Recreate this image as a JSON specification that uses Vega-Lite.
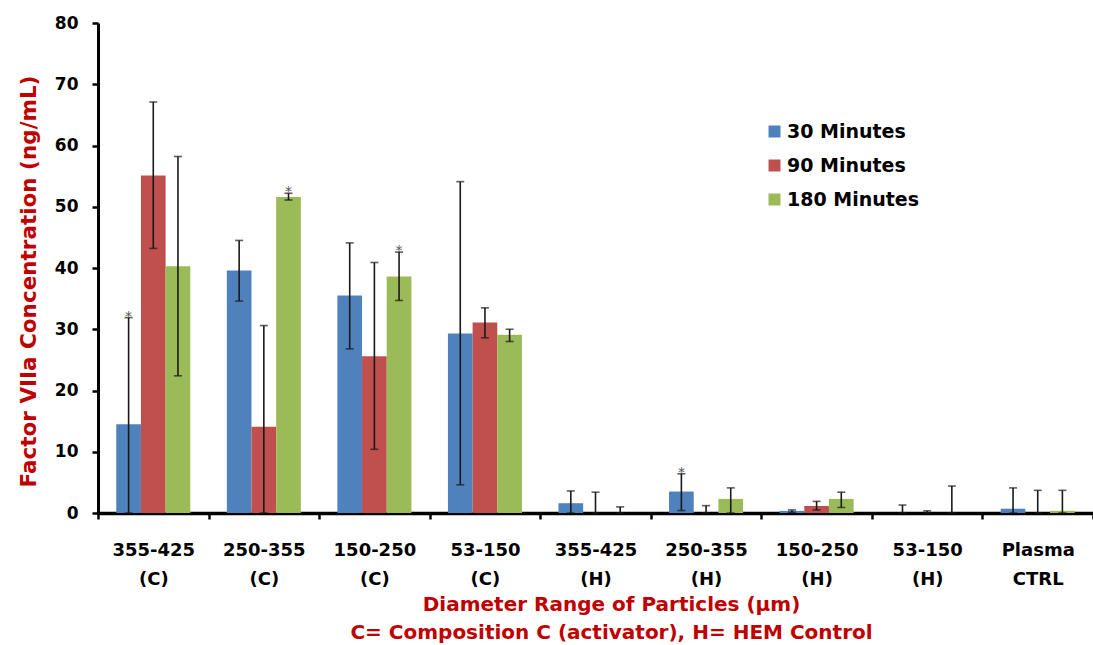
{
  "$schema": "https://vega.github.io/schema/vega-lite/v6.json",
  "width": 995,
  "height": 490,
  "autosize": {"type": "none"},
  "padding": {"left": 98, "top": 23, "right": 0, "bottom": 132},
  "background": "white",
  "config": {"view": {"stroke": null}, "font": "DejaVu Sans"},
  "data": {
    "values": [
      {"cat": "355-425|(C)", "series": "30 Minutes", "value": 14.5, "lo": 0, "hi": 31.9, "star": "*"},
      {"cat": "355-425|(C)", "series": "90 Minutes", "value": 55.1, "lo": 43.2, "hi": 67.1, "star": ""},
      {"cat": "355-425|(C)", "series": "180 Minutes", "value": 40.3, "lo": 22.4, "hi": 58.2, "star": ""},
      {"cat": "250-355|(C)", "series": "30 Minutes", "value": 39.6, "lo": 34.6, "hi": 44.5, "star": ""},
      {"cat": "250-355|(C)", "series": "90 Minutes", "value": 14.1, "lo": 0, "hi": 30.6, "star": ""},
      {"cat": "250-355|(C)", "series": "180 Minutes", "value": 51.6, "lo": 51.1, "hi": 52.2, "star": "*"},
      {"cat": "150-250|(C)", "series": "30 Minutes", "value": 35.5, "lo": 26.8, "hi": 44.1, "star": ""},
      {"cat": "150-250|(C)", "series": "90 Minutes", "value": 25.6, "lo": 10.4, "hi": 40.9, "star": ""},
      {"cat": "150-250|(C)", "series": "180 Minutes", "value": 38.6, "lo": 34.7, "hi": 42.6, "star": "*"},
      {"cat": "53-150|(C)", "series": "30 Minutes", "value": 29.3, "lo": 4.6, "hi": 54.1, "star": ""},
      {"cat": "53-150|(C)", "series": "90 Minutes", "value": 31.1, "lo": 28.6, "hi": 33.5, "star": ""},
      {"cat": "53-150|(C)", "series": "180 Minutes", "value": 29.1, "lo": 28.0, "hi": 30.0, "star": ""},
      {"cat": "355-425|(H)", "series": "30 Minutes", "value": 1.6, "lo": 0, "hi": 3.6, "star": ""},
      {"cat": "355-425|(H)", "series": "90 Minutes", "value": 0, "lo": 0, "hi": 3.4, "star": ""},
      {"cat": "355-425|(H)", "series": "180 Minutes", "value": 0, "lo": 0, "hi": 1.0, "star": ""},
      {"cat": "250-355|(H)", "series": "30 Minutes", "value": 3.5, "lo": 0.4, "hi": 6.4, "star": "*"},
      {"cat": "250-355|(H)", "series": "90 Minutes", "value": 0, "lo": 0, "hi": 1.2, "star": ""},
      {"cat": "250-355|(H)", "series": "180 Minutes", "value": 2.3, "lo": 0, "hi": 4.1, "star": ""},
      {"cat": "150-250|(H)", "series": "30 Minutes", "value": 0.35, "lo": 0.1, "hi": 0.5, "star": ""},
      {"cat": "150-250|(H)", "series": "90 Minutes", "value": 1.15, "lo": 0.5, "hi": 1.9, "star": ""},
      {"cat": "150-250|(H)", "series": "180 Minutes", "value": 2.3, "lo": 0.9, "hi": 3.4, "star": ""},
      {"cat": "53-150|(H)", "series": "30 Minutes", "value": 0, "lo": 0, "hi": 1.3, "star": ""},
      {"cat": "53-150|(H)", "series": "90 Minutes", "value": 0, "lo": 0, "hi": 0.35, "star": ""},
      {"cat": "53-150|(H)", "series": "180 Minutes", "value": 0, "lo": 0, "hi": 4.4, "star": ""},
      {"cat": "Plasma|CTRL", "series": "30 Minutes", "value": 0.7, "lo": 0, "hi": 4.1, "star": ""},
      {"cat": "Plasma|CTRL", "series": "90 Minutes", "value": 0, "lo": 0, "hi": 3.7, "star": ""},
      {"cat": "Plasma|CTRL", "series": "180 Minutes", "value": 0.35, "lo": 0, "hi": 3.7, "star": ""}
    ]
  },
  "encoding": {
    "x": {
      "field": "cat",
      "type": "nominal",
      "sort": null,
      "scale": {"paddingInner": 0, "paddingOuter": 0},
      "axis": {
        "title": ["Diameter Range of Particles (µm)", "C= Composition C (activator), H= HEM Control"],
        "labelExpr": "datum.value ? split(datum.value, '|') : ''",
        "labelAngle": 0,
        "labelFont": "DejaVu Sans",
        "labelFontWeight": "bold",
        "labelFontSize": 18,
        "labelColor": "black",
        "labelLineHeight": 29,
        "labelPadding": 22,
        "tickBand": "extent",
        "tickSize": 6,
        "tickWidth": 2.5,
        "tickColor": "black",
        "domainColor": "black",
        "domainWidth": 3.5,
        "titleFont": "DejaVu Sans",
        "titleFontSize": 20,
        "titleFontWeight": "bold",
        "titleColor": "#C00000",
        "titleLineHeight": 28,
        "titleX": 513,
        "titleY": 81,
        "titleAlign": "center",
        "titleBaseline": "top"
      }
    },
    "xOffset": {
      "field": "series",
      "type": "nominal",
      "sort": ["30 Minutes", "90 Minutes", "180 Minutes"],
      "scale": {"paddingInner": 0, "paddingOuter": 0.74}
    }
  },
  "layer": [
    {
      "mark": {"type": "bar"},
      "encoding": {
        "y": {
          "field": "value",
          "type": "quantitative",
          "title": "Factor VIIa Concentration (ng/mL)",
          "scale": {"domain": [0, 80]},
          "axis": {
            "title": "Factor VIIa Concentration (ng/mL)",
            "values": [0, 10, 20, 30, 40, 50, 60, 70, 80],
            "grid": false,
            "domainColor": "black",
            "domainWidth": 3,
            "tickColor": "black",
            "tickSize": 6,
            "tickWidth": 2.5,
            "labelFont": "DejaVu Sans",
            "labelFontSize": 17,
            "labelFontWeight": "bold",
            "labelColor": "black",
            "labelPadding": 14,
            "titleFont": "DejaVu Sans",
            "titleFontSize": 21.5,
            "titleFontWeight": "bold",
            "titleColor": "#C00000",
            "titlePadding": 14,
            "titleY": 258
          }
        },
        "color": {
          "field": "series",
          "type": "nominal",
          "sort": ["30 Minutes", "90 Minutes", "180 Minutes"],
          "scale": {"domain": ["30 Minutes", "90 Minutes", "180 Minutes"], "range": ["#4F81BD", "#C0504D", "#9BBB59"]},
          "legend": {
            "title": null,
            "orient": "none",
            "legendX": 667,
            "legendY": 99,
            "symbolType": "square",
            "symbolSize": 144,
            "symbolStrokeWidth": 0,
            "symbolOpacity": 1,
            "labelFont": "DejaVu Sans",
            "labelFontSize": 19,
            "labelFontWeight": "bold",
            "labelColor": "black",
            "labelOffset": 3,
            "rowPadding": 14,
            "padding": 0
          }
        }
      }
    },
    {
      "mark": {"type": "rule", "color": "#1a1a1a", "strokeWidth": 1.6},
      "encoding": {
        "y": {"field": "lo", "type": "quantitative", "title": "Factor VIIa Concentration (ng/mL)"},
        "y2": {"field": "hi"}
      }
    },
    {
      "mark": {"type": "tick", "color": "#1a1a1a", "size": 8, "thickness": 1.6},
      "encoding": {
        "y": {"field": "hi", "type": "quantitative", "title": "Factor VIIa Concentration (ng/mL)"}
      }
    },
    {
      "mark": {"type": "tick", "color": "#1a1a1a", "size": 8, "thickness": 1.6},
      "encoding": {
        "y": {"field": "lo", "type": "quantitative", "title": "Factor VIIa Concentration (ng/mL)"}
      }
    },
    {
      "transform": [{"filter": "datum.star == '*'"}],
      "mark": {"type": "text", "baseline": "alphabetic", "dy": 3, "fontSize": 14, "color": "#555555", "font": "DejaVu Sans"},
      "encoding": {
        "y": {"field": "hi", "type": "quantitative", "title": "Factor VIIa Concentration (ng/mL)"},
        "text": {"field": "star"}
      }
    }
  ]
}
